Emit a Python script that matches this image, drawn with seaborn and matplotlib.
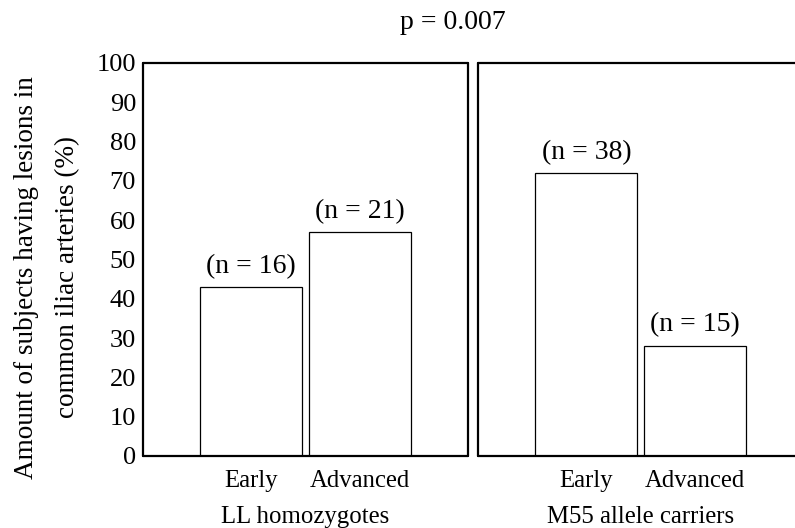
import matplotlib
matplotlib.use("Agg")
import matplotlib.pyplot as plt
import pandas as pd
import seaborn as sns

stages = ["Early", "Advanced"]
groups = ["LL homozygotes", "M55 allele carriers"]
ll_pct = [43, 57]
m55_pct = [72, 28]
ll_n = [16, 21]
m55_n = [38, 15]
y_ticks = list(range(0, 101, 10))
title = "p = 0.007"
ylabel = "Amount of subjects having lesions in\ncommon iliac arteries (%)"

sns.set_theme(style="white")
plt.rcParams["font.family"] = ["Liberation Serif", "DejaVu Serif"]
plt.rcParams["font.size"] = 18
for key in ["text.color", "axes.labelcolor", "xtick.color", "ytick.color"]:
    plt.rcParams[key] = "black"

fig = plt.figure(figsize=(7.95, 5.28), dpi=100)
ax_l = fig.add_axes([0.1799, 0.1364, 0.4088, 0.7443])
ax_r = fig.add_axes([0.6013, 0.1364, 0.4088, 0.7443])

panels = [
    (ax_l, groups[0], ll_pct, ll_n),
    (ax_r, groups[1], m55_pct, m55_n),
]
for ax, group, pct, ns in panels:
    df = pd.DataFrame({"stage": stages, "pct": pct})
    sns.barplot(df, x="stage", y="pct", color="white", edgecolor="black",
                linewidth=0.9, width=0.94, saturation=1, ax=ax)
    for i, (p, n) in enumerate(zip(pct, ns)):
        ax.annotate(f"(n = {n})", (i, p), xytext=(0, 6), textcoords="offset points",
                    ha="center", va="bottom", fontsize=20)
    ax.set_xlim(-1, 2)
    ax.set_ylim(0, 100)
    ax.set_xlabel(group, fontsize=17.8, labelpad=10)
    ax.set_ylabel("")
    ax.tick_params(axis="both", length=0)
    ax.tick_params(axis="x", pad=10, labelsize=17.8)
    for sp in ax.spines.values():
        sp.set_visible(True)
        sp.set_color("black")
        sp.set_linewidth(1.6)
        sp.set_capstyle("round")
        sp.set_joinstyle("round")

ax_l.set_yticks(y_ticks)
ax_l.tick_params(axis="y", pad=5, labelsize=19)
ax_r.set_yticks([])
ax_l.set_ylabel(ylabel, fontsize=19.5, linespacing=1.85, va="center", ha="center")
ax_l.yaxis.set_label_coords(-0.295, 0.455)

fig.text(0.570, 0.958, title, ha="center", va="center", fontsize=20)

fig.savefig("out.png", dpi=100)
